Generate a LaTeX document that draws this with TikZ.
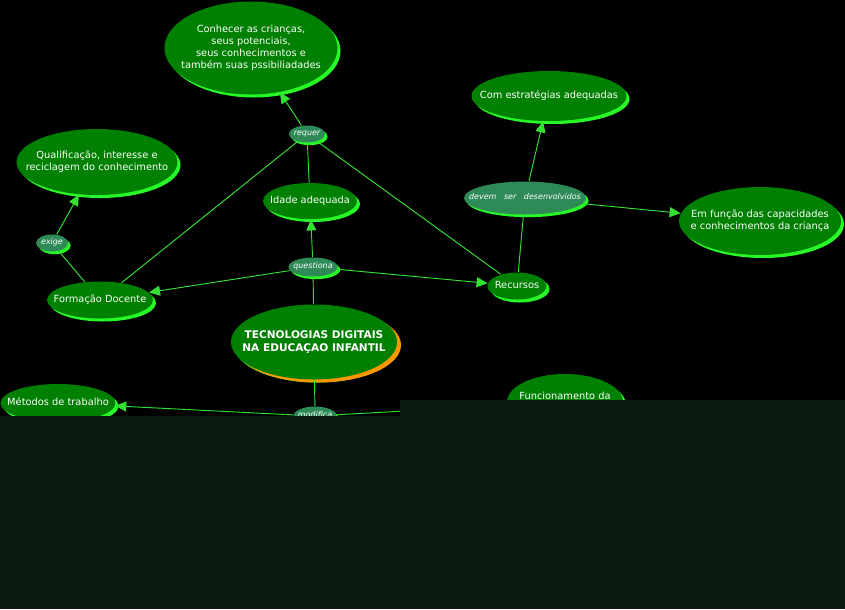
\documentclass[tikz,border=0pt]{standalone}
\usepackage{fontspec}
\setmainfont{DejaVu Sans}
\usetikzlibrary{shapes.geometric,shadows,arrows.meta}

\definecolor{conceptgreen}{RGB}{0,128,0}
\definecolor{shadowgreen}{RGB}{40,250,40}
\definecolor{linkgreen}{RGB}{46,139,87}
\definecolor{linegreen}{RGB}{50,225,50}
\definecolor{centralorange}{RGB}{255,150,0}
\definecolor{covergreen}{RGB}{11,26,15}
\newcommand{\ctext}[1]{\makebox[0pt]{\begin{tabular}{@{}c@{}}#1\end{tabular}}}

\begin{document}
\begin{tikzpicture}[x=0.03cm, y=-0.03cm, line width=0.8pt,
  concept/.style={ellipse, fill=conceptgreen, inner sep=0pt, text=white,
    font=\fontsize{8.4}{10.2}\selectfont,
    drop shadow={fill=shadowgreen, opacity=1, shadow xshift=0.09cm, shadow yshift=-0.09cm}},
  link/.style={ellipse, fill=linkgreen, inner sep=0pt, text=white,
    font=\fontsize{6.8}{8}\selectfont\itshape,
    drop shadow={fill=shadowgreen, opacity=1, shadow xshift=0.08cm, shadow yshift=-0.08cm}},
  conn/.style={draw=linegreen, line width=0.8pt},
  >={Triangle[length=0.33cm, width=0.3cm]}]
  \fill[black] (0,0) rectangle (845,609);
  \useasboundingbox (0,0) rectangle (845,609);
  % concepts
  \node[concept, minimum width=5.19cm, minimum height=2.79cm] (conhecer) at (251,48)
    {\ctext{Conhecer as crianças,\\seus potenciais,\\seus conhecimentos e\\também suas pssibiliadades}};
  \node[concept, minimum width=4.83cm, minimum height=1.98cm] (qualif) at (97,162)
    {\ctext{Qualificação, interesse e\\reciclagem do conhecimento}};
  \node[concept, minimum width=2.82cm, minimum height=1.08cm] (idade) at (310,201) {\ctext{Idade adequada}};
  \node[concept, minimum width=3.18cm, minimum height=1.11cm] (formacao) at (100,300) {\ctext{Formação Docente}};
  \node[concept, minimum width=4.65cm, minimum height=1.5cm] (estrategias) at (549,96) {\ctext{Com estratégias adequadas}};
  \node[concept, minimum width=4.86cm, minimum height=2.04cm] (funcao) at (760,221)
    {\ctext{Em função das capacidades\\e conhecimentos da criança}};
  \node[concept, minimum width=1.77cm, minimum height=0.81cm] (recursos) at (517,286) {\ctext{Recursos}};
  \node[concept, minimum width=3.45cm, minimum height=1.14cm] (metodos) at (58,403) {\ctext{Métodos de trabalho}};
  \node[concept, minimum width=3.48cm, minimum height=1.68cm] (funcionamento) at (565,402)
    {\raisebox{0.075cm}[0pt][0pt]{\makebox[0pt]{Funcionamento da}}};
  \node[concept, minimum width=4.98cm, minimum height=2.25cm, font=\fontsize{9}{11}\selectfont\bfseries,
    drop shadow={fill=centralorange, opacity=1, shadow xshift=0.12cm, shadow yshift=-0.09cm}] (central) at (314,342)
    {\ctext{TECNOLOGIAS DIGITAIS\\NA EDUCAÇAO INFANTIL}};
  % linking phrases
  \node[link, minimum width=1.08cm, minimum height=0.51cm] (requer) at (307,134) {\ctext{requer}};
  \node[link, minimum width=0.96cm, minimum height=0.51cm] (exige) at (52,243) {\ctext{exige}};
  \node[link, minimum width=1.47cm, minimum height=0.57cm] (questiona) at (313,267) {\ctext{questiona}};
  \node[link, minimum width=3.66cm, minimum height=0.99cm] (devem) at (525,198) {\ctext{devem\ \ \ ser\ \ \ desenvolvidos}};
  \node[link, minimum width=1.29cm, minimum height=0.57cm] (modifica) at (315,416) {\ctext{modifica}};
  % connectors
  \draw[conn, ->] (requer) -- (conhecer);
  \draw[conn] (idade) -- (requer);
  \draw[conn] (formacao) -- (requer);
  \draw[conn] (requer) -- (recursos);
  \draw[conn] (formacao) -- (exige);
  \draw[conn, ->] (exige) -- (qualif);
  \draw[conn] (central) -- (questiona);
  \draw[conn, ->] (questiona) -- (idade);
  \draw[conn, ->] (questiona) -- (formacao);
  \draw[conn, ->] (questiona) -- (recursos);
  \draw[conn] (recursos) -- (devem);
  \draw[conn, ->] (devem) -- (estrategias);
  \draw[conn, ->] (devem) -- (funcao);
  \draw[conn] (central) -- (modifica);
  \draw[conn, ->] (modifica) -- (metodos);
  \draw[conn, ->] (modifica) -- (funcionamento);
  % cover over the lower part
  \fill[covergreen] (0,416) rectangle (845,609);
  \fill[covergreen] (400,400) rectangle (845,416);
\end{tikzpicture}
\end{document}
